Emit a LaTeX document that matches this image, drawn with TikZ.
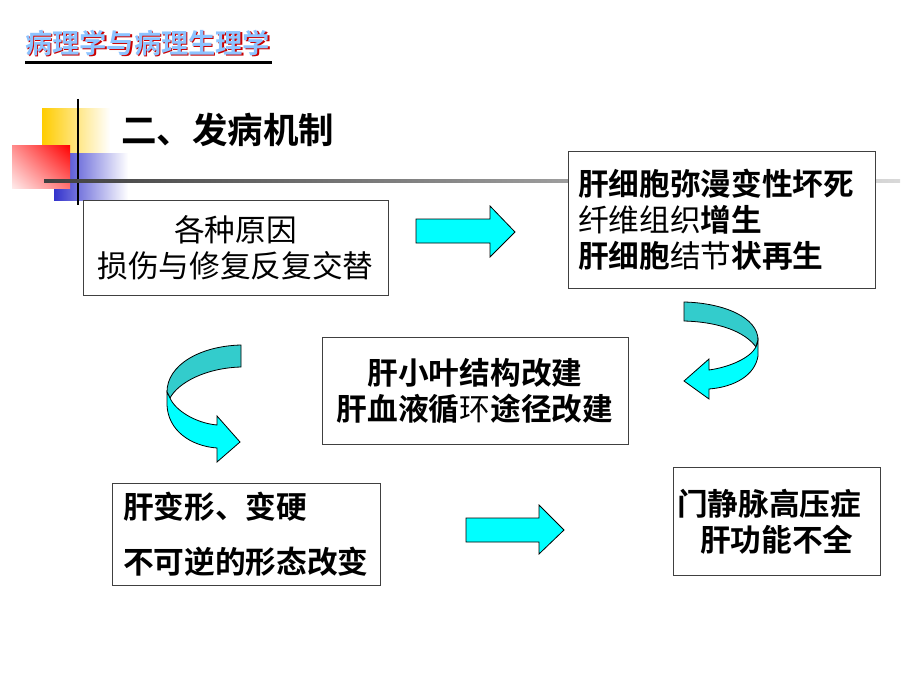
\documentclass[tikz,border=0pt]{standalone}
\usepackage{fontspec}
\newfontfamily\zhfont{Noto Sans CJK SC}[BoldFont={Noto Sans CJK SC Bold}]
\usetikzlibrary{patterns,shadings}
\definecolor{arrowcyan}{RGB}{0,255,255}
\definecolor{arrowteal}{RGB}{51,204,204}
\definecolor{titleblue}{RGB}{140,195,255}
\definecolor{titlered}{RGB}{204,0,0}
\definecolor{decoyellow}{RGB}{255,204,0}
\definecolor{decoblue}{RGB}{51,51,204}
\definecolor{decored}{RGB}{255,0,0}
\newcommand{\boxfont}{\zhfont\fontsize{30.7}{36}\selectfont}
\newcommand{\titlefont}{\zhfont\bfseries\fontsize{27.2}{30}\selectfont}
\newcommand{\headfont}{\zhfont\bfseries\fontsize{35.5}{40}\selectfont}
\tikzset{box/.style={rectangle,draw=black!75,fill=white,line width=0.9pt,inner sep=0pt,font=\boxfont},
  blockarrow/.style={draw=black,line width=0.8pt,fill=arrowcyan},
  backarrow/.style={draw=black,line width=0.8pt,fill=arrowteal}}

\begin{document}
\begin{tikzpicture}[x=1pt,y=-1pt]
	%%page
	\path [fill=white] (0,0) rectangle (920,690);
	%%title
	\node [anchor=west,inner sep=0pt,text=titlered,font=\titlefont] (titleshadow) at (26.5,44.5) {病理学与病理生理学};
	\node [anchor=west,inner sep=0pt,text=titleblue,font=\titlefont] (title) at (25,43) {病理学与病理生理学};
	\draw [line width=3pt] (25,63) -- (272,63);
	%%decoration
	\shade [left color=decoyellow,middle color=decoyellow,right color=white] (42,109) rectangle (110,155);
	\shade [left color=decoblue,middle color=decoblue,right color=white] (54,153) rectangle (128,200);
	\shade [lower left=red!8,upper left=red!45,lower right=red!55,upper right=decored] (12,145) rectangle (70,188);
	\draw [line width=2pt] (78,99) -- (78,205);
	\shade [left color=black!75,right color=black!15] (44,179.5) rectangle (900,182.5);
	\node [anchor=west,inner sep=0pt,font=\headfont] (heading) at (121,130) {二、发病机制};
	%%boxes
	\node [box,minimum width=305pt,minimum height=95pt,text width=305pt,align=center] (causes) at (235.5,248) {各种原因\\损伤与修复反复交替};
	\node [box,minimum width=307pt,minimum height=137pt,inner xsep=10pt,text width=287pt,align=left] (necrosis) at (721.5,219.5) {\textbf{肝细胞弥漫变性坏死}\\纤维组织\textbf{增生}\\\textbf{肝细胞}结节\textbf{状再生}};
	\node [box,minimum width=306pt,minimum height=107pt,text width=306pt,align=center] (rebuild) at (475,391) {\textbf{肝小叶结构改建}\\\textbf{肝血液循}环\textbf{途径改建}};
	\node [box,minimum width=268pt,minimum height=102pt,inner xsep=11pt,text width=246pt,align=left] (deform) at (246,534.5) {\textbf{肝变形、变硬}\\[19pt]\textbf{不可逆的形态改变}};
	\node [box,minimum width=207pt,minimum height=108pt,inner xsep=4pt,text width=199pt,align=left] (outcome) at (776.5,521.5) {\textbf{门静脉高压症}\\\hspace*{23pt}\textbf{肝功能不全}};
	%%straight arrows
	\draw [blockarrow] (416,219) -- (490,219) -- (490,206) -- (515,232) -- (490,257) -- (490,243) -- (416,243) -- cycle;
	\draw [blockarrow] (466,518) -- (539,518) -- (539,505) -- (564,530) -- (539,554) -- (539,542) -- (466,542) -- cycle;
	%%curved arrow, left
	\draw [backarrow] (241,345) .. controls (200,346) and (167,365) .. (167,392) -- (170,398) .. controls (178,383) and (205,368) .. (241,367) -- cycle;
	\draw [blockarrow] (167,392) -- (167,405) .. controls (168,430) and (190,446) .. (217,448) -- (217,462) -- (240,442) -- (217,416) -- (217,425) .. controls (195,423) and (175,410) .. (170,398) -- cycle;
	%%curved arrow, right
	\draw [backarrow] (684,302) .. controls (725,303) and (758,318) .. (758,340) -- (756,347) .. controls (745,332) and (720,322) .. (684,321) -- cycle;
	\draw [blockarrow] (758,340) -- (758,356) .. controls (755,375) and (735,387) .. (709,389) -- (709,399) -- (684,381) -- (709,359) -- (709,370) .. controls (730,367) and (750,358) .. (756,347) -- cycle;
\end{tikzpicture}
\end{document}
